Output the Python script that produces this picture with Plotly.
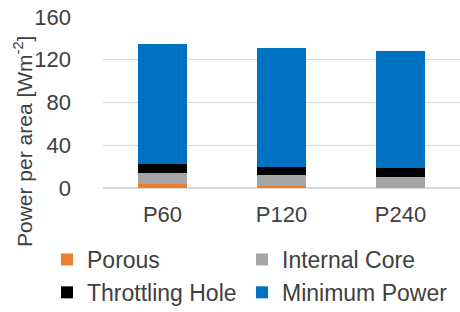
import plotly.graph_objects as go

categories = ["P60", "P120", "P240"]
porous = [3.7, 1.9, 0.4]
internal_core = [10.0, 10.0, 9.9]
throttling_hole = [8.4, 8.0, 8.7]
minimum_power = [112.5, 111.2, 109.3]
y_ticks = [0, 40, 80, 120, 160]

series = [
    ("Porous", porous, "#ED7D31", "legend"),
    ("Internal Core", internal_core, "#A5A5A5", "legend2"),
    ("Throttling Hole", throttling_hole, "#000000", "legend"),
    ("Minimum Power", minimum_power, "#0070C0", "legend2"),
]

fig = go.Figure()
for name, vals, color, lg in series:
    fig.add_trace(go.Bar(x=categories, y=vals, name=name, marker_color=color,
                         marker_line_width=0, legend=lg))

font = "Liberation Sans, Arial, sans-serif"
legend_style = dict(orientation="v", xanchor="left", yanchor="top",
                    traceorder="normal", font=dict(size=23, color="#404040"),
                    itemwidth=30, bgcolor="rgba(0,0,0,0)", tracegroupgap=0)
fig.update_layout(
    width=460, height=312,
    margin=dict(l=103, r=0, t=17, b=124, autoexpand=False),
    barmode="stack", bargap=0.58,
    plot_bgcolor="white", paper_bgcolor="white",
    font=dict(family=font, size=22, color="#404040"),
    showlegend=True,
    legend=dict(x=(47 - 103) / 357, y=(188 - 238) / 171, **legend_style),
    legend2=dict(x=(242 - 103) / 357, y=(188 - 238) / 171, **legend_style),
    xaxis=dict(showgrid=False, showline=False, ticks="", tickfont=dict(size=22),
               ticklabelstandoff=11),
    yaxis=dict(range=[0, 160], tickvals=y_ticks, showgrid=True, gridcolor="#D9D9D9",
               gridwidth=1, zeroline=True, zerolinecolor="#D9D9D9", showline=False,
               ticks="", ticklabelstandoff=31, tickfont=dict(size=22)),
    annotations=[dict(text="Power per area [Wm<sup>-2</sup>]", xref="paper", yref="paper",
                      x=(23 - 103) / 357, y=(188 - 142) / 171, textangle=-90,
                      showarrow=False, xanchor="center", yanchor="middle",
                      font=dict(size=21, color="#404040"))],
)

fig.write_html("out.html", config={"displayModeBar": False},
               post_script="document.body.style.margin='0';")
